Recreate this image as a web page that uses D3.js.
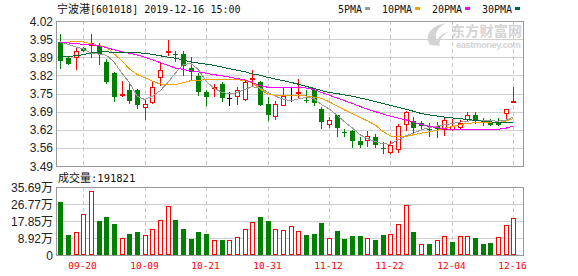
<!DOCTYPE html>
<html>
<head>
<meta charset="utf-8">
<script src="https://cdn.jsdelivr.net/npm/d3@7"></script>
<style>
  html, body { margin: 0; padding: 0; background: #fff; }
  svg { display: block; }
</style>
</head>
<body>
<div id="chart"></div>
<script>
// trading days shown (MM-DD, 2019)
const dates = ['09-17', '09-18', '09-19', '09-20', '09-23', '09-24', '09-25', '09-26', '09-27', '09-30',
  '10-08', '10-09', '10-10', '10-11', '10-14', '10-15', '10-16', '10-17', '10-18', '10-21',
  '10-22', '10-23', '10-24', '10-25', '10-28', '10-29', '10-30', '10-31', '11-01', '11-04',
  '11-05', '11-06', '11-07', '11-08', '11-11', '11-12', '11-13', '11-14', '11-15', '11-18',
  '11-19', '11-20', '11-21', '11-22', '11-25', '11-26', '11-27', '11-28', '11-29', '12-02',
  '12-03', '12-04', '12-05', '12-06', '12-09', '12-10', '12-11', '12-12', '12-13', '12-16'];

const openPx = [3.945, 3.885, 3.886, 3.921, 3.929, 3.928, 3.871, 3.831, 3.751, 3.768,
  3.769, 3.702, 3.721, 3.812, 3.902, 3.900, 3.899, 3.848, 3.820, 3.759,
  3.771, 3.790, 3.740, 3.741, 3.731, 3.805, 3.798, 3.716, 3.668, 3.710,
  3.751, 3.753, 3.732, 3.768, 3.698, 3.640, 3.676, 3.613, 3.619, 3.580,
  3.582, 3.597, 3.556, 3.537, 3.549, 3.641, 3.656, 3.646, 3.625, 3.637,
  3.622, 3.622, 3.629, 3.658, 3.676, 3.656, 3.646, 3.647, 3.680, 3.720];
const highPx = [3.972, 3.887, 3.921, 3.925, 3.972, 3.940, 3.881, 3.835, 3.802, 3.790,
  3.770, 3.731, 3.796, 3.869, 3.952, 3.911, 3.911, 3.889, 3.829, 3.767,
  3.790, 3.796, 3.759, 3.780, 3.800, 3.841, 3.800, 3.741, 3.729, 3.780,
  3.777, 3.808, 3.768, 3.771, 3.707, 3.668, 3.678, 3.625, 3.622, 3.597,
  3.619, 3.607, 3.576, 3.583, 3.643, 3.692, 3.670, 3.655, 3.646, 3.650,
  3.668, 3.662, 3.658, 3.688, 3.688, 3.664, 3.662, 3.664, 3.700, 3.780];
const lowPx = [3.850, 3.861, 3.842, 3.909, 3.883, 3.863, 3.792, 3.729, 3.741, 3.719,
  3.702, 3.658, 3.717, 3.783, 3.891, 3.875, 3.824, 3.804, 3.751, 3.713,
  3.741, 3.729, 3.713, 3.713, 3.729, 3.784, 3.713, 3.658, 3.659, 3.710,
  3.729, 3.735, 3.723, 3.713, 3.628, 3.628, 3.601, 3.598, 3.561, 3.558,
  3.558, 3.558, 3.537, 3.534, 3.536, 3.619, 3.613, 3.625, 3.601, 3.597,
  3.600, 3.618, 3.622, 3.649, 3.646, 3.640, 3.639, 3.640, 3.658, 3.720];
const closePx = [3.872, 3.863, 3.910, 3.911, 3.938, 3.899, 3.798, 3.741, 3.755, 3.729,
  3.713, 3.717, 3.780, 3.841, 3.910, 3.898, 3.857, 3.832, 3.759, 3.741,
  3.780, 3.738, 3.740, 3.768, 3.798, 3.811, 3.713, 3.677, 3.716, 3.747,
  3.751, 3.759, 3.731, 3.719, 3.649, 3.658, 3.628, 3.612, 3.580, 3.568,
  3.598, 3.568, 3.555, 3.567, 3.635, 3.687, 3.628, 3.637, 3.624, 3.626,
  3.658, 3.637, 3.646, 3.676, 3.656, 3.649, 3.639, 3.641, 3.698, 3.729];

const volume = [279700, 105000, 119100, 213600, 335900, 178500, 199400, 162700, 89200, 110200,
  120700, 105000, 136500, 182100, 255600, 183700, 136500, 84000, 120700, 110200,
  78700, 78700, 78700, 94500, 136500, 173200, 199400, 178500, 136500, 131200,
  152200, 126000, 105000, 110200, 168000, 89200, 126000, 84000, 99700, 99700,
  89200, 78700, 105000, 110200, 161100, 260900, 120700, 56000, 56000, 77000,
  99700, 68200, 99700, 99700, 89200, 57700, 63000, 94500, 157500, 191821];

// moving averages
const ma5 = [3.944, 3.935, 3.925, 3.918, 3.903, 3.899, 3.895, 3.870, 3.830, 3.795,
  3.745, 3.733, 3.745, 3.765, 3.795, 3.830, 3.860, 3.865, 3.842, 3.800,
  3.775, 3.760, 3.753, 3.758, 3.770, 3.780, 3.775, 3.760, 3.745, 3.735,
  3.728, 3.735, 3.741, 3.737, 3.715, 3.699, 3.677, 3.652, 3.630, 3.605,
  3.590, 3.580, 3.571, 3.570, 3.585, 3.600, 3.610, 3.622, 3.630, 3.636,
  3.640, 3.645, 3.650, 3.654, 3.656, 3.655, 3.655, 3.654, 3.657, 3.669];
const ma10 = [3.942, 3.943, 3.944, 3.944, 3.937, 3.930, 3.925, 3.900, 3.875, 3.845,
  3.825, 3.813, 3.800, 3.790, 3.786, 3.788, 3.794, 3.802, 3.803, 3.806,
  3.808, 3.808, 3.808, 3.806, 3.802, 3.795, 3.772, 3.753, 3.748, 3.747,
  3.747, 3.747, 3.746, 3.742, 3.738, 3.725, 3.710, 3.695, 3.682, 3.668,
  3.655, 3.640, 3.617, 3.600, 3.597, 3.598, 3.604, 3.610, 3.615, 3.620,
  3.628, 3.634, 3.640, 3.646, 3.648, 3.649, 3.649, 3.649, 3.654, 3.663];
const ma20 = [3.942, 3.940, 3.937, 3.935, 3.933, 3.930, 3.923, 3.915, 3.908, 3.902,
  3.896, 3.888, 3.878, 3.868, 3.858, 3.848, 3.843, 3.838, 3.834, 3.829,
  3.824, 3.820, 3.815, 3.810, 3.805, 3.795, 3.783, 3.778, 3.777, 3.777,
  3.778, 3.777, 3.775, 3.770, 3.759, 3.749, 3.739, 3.729, 3.719, 3.708,
  3.698, 3.689, 3.680, 3.672, 3.665, 3.659, 3.650, 3.642, 3.635, 3.630,
  3.626, 3.624, 3.623, 3.623, 3.623, 3.623, 3.623, 3.624, 3.628, 3.636];
const ma30 = [3.889, 3.890, 3.893, 3.897, 3.903, 3.907, 3.907, 3.906, 3.905, 3.905,
  3.904, 3.902, 3.898, 3.893, 3.888, 3.884, 3.877, 3.870, 3.866, 3.862,
  3.858, 3.852, 3.846, 3.840, 3.835, 3.827, 3.822, 3.814, 3.808, 3.802,
  3.796, 3.789, 3.781, 3.774, 3.766, 3.759, 3.755, 3.750, 3.745, 3.739,
  3.733, 3.726, 3.719, 3.712, 3.705, 3.698, 3.690, 3.682, 3.677, 3.673,
  3.669, 3.666, 3.663, 3.660, 3.657, 3.654, 3.651, 3.650, 3.649, 3.649];

const priceTickLabels = ['3.49', '3.56', '3.62', '3.69', '3.75', '3.82', '3.89', '3.95', '4.02'];
const volTickLabels = ['0', '8.92万', '17.85万', '26.77万', '35.69万'];
const xTickLabels = ['09-20', '10-09', '10-21', '10-31', '11-12', '11-22', '12-04', '12-16'];

const legendItems = [
  { label: '5PMA', color: '#9a9a9a', values: ma5 },
  { label: '10PMA', color: '#f0a000', values: ma10 },
  { label: '20PMA', color: '#ff00ff', values: ma20 },
  { label: '30PMA', color: '#006a32', values: ma30 },
];

const title = { name: '宁波港', code: '[601018] 2019-12-16 15:00' };
const lastVolume = volume[volume.length - 1];

const W = 578;
const H = 276;
const plotL = 56;
const plotR = 523;
const RED = '#ff0000';
const GREEN = '#008000';
const GRID = '#d0d0d0';
const BORDER = '#999';
const mono = '"DejaVu Sans Mono", "Liberation Mono", monospace';
const sans = '"Liberation Sans", "Noto Sans CJK SC", sans-serif';
const cjk = '"Noto Sans CJK SC", sans-serif';

const svg = d3.select('#chart').append('svg')
  .attr('width', W)
  .attr('height', H);

const x = d3.scaleLinear().domain([3, 59]).range([83.3, 513.3]);
const y = d3.scaleLinear().domain([3.49, 4.02]).range([166, 21]);
const vy = d3.scaleLinear().domain([0, 356900]).range([255, 187]);

const px = (v) => Math.round(v) + 0.5;
const idx = d3.range(dates.length);

// ---- title + legend
const t = svg.append('text').attr('x', 57).attr('y', 13).attr('fill', '#111');
t.append('tspan').style('font-family', cjk).style('font-size', '11px').text(title.name);
t.append('tspan').style('font-family', mono).style('font-size', '10px').text(title.code);

let lx = 338;
legendItems.forEach((item) => {
  const txt = svg.append('text')
    .attr('x', lx).attr('y', 12.5)
    .style('font-family', mono).style('font-size', '10px')
    .attr('fill', '#111')
    .text(item.label);
  const w = txt.node().getComputedTextLength();
  svg.append('rect')
    .attr('x', Math.round(lx + w + 3)).attr('y', 7)
    .attr('width', 5).attr('height', 3)
    .attr('fill', item.color);
  lx = Math.round(lx + w + 3) + 5 + 12;
});

// ---- watermark
const wm = svg.append('g').attr('fill', '#d4d4d4');
wm.append('path')
  .attr('d', 'M430,45 C424,36 430,26 446,23 C437,28 434,34 437,41 C439,36 443,33 448,32 C442,36 438,41 440,46 Z');
wm.append('text').attr('x', 451).attr('y', 35.5)
  .style('font-family', cjk).style('font-size', '14px').style('font-weight', 'bold')
  .attr('textLength', 71).text('东方财富网');
wm.append('text').attr('x', 456).attr('y', 47.5)
  .style('font-family', sans).style('font-size', '9.5px').style('font-weight', 'bold')
  .attr('textLength', 65).text('eastmoney.com');

// ---- grids
const priceVals = priceTickLabels.map((d, i) => 3.49 + i * (4.02 - 3.49) / (priceTickLabels.length - 1));
const volVals = volTickLabels.map((d, i) => i * 356900 / (volTickLabels.length - 1));

svg.append('g').selectAll('line').data(priceVals.slice(1, -1)).join('line')
  .attr('x1', plotL).attr('x2', plotR)
  .attr('y1', (d) => px(y(d))).attr('y2', (d) => px(y(d)))
  .attr('stroke', GRID);
svg.append('g').selectAll('line').data(volVals.slice(1, -1)).join('line')
  .attr('x1', plotL).attr('x2', plotR)
  .attr('y1', (d) => px(vy(d))).attr('y2', (d) => px(vy(d)))
  .attr('stroke', GRID);

const tickIdx = xTickLabels.map((d) => dates.indexOf(d));
[[21, 166], [187, 255]].forEach(([a, b]) => {
  svg.append('g').selectAll('line').data(tickIdx).join('line')
    .attr('x1', (d) => px(x(d))).attr('x2', (d) => px(x(d)))
    .attr('y1', a).attr('y2', b)
    .attr('stroke', '#c8c8c8')
    .attr('stroke-dasharray', '4,3');
});

// ---- axis labels
svg.append('g').selectAll('text').data(priceVals).join('text')
  .attr('x', 53).attr('y', (d) => y(d) + 4.5)
  .attr('text-anchor', 'end')
  .style('font-family', sans).style('font-size', '12px')
  .attr('fill', '#222')
  .text((d, i) => priceTickLabels[i]);
svg.append('g').selectAll('text').data(volVals).join('text')
  .attr('x', 53).attr('y', (d) => vy(d) + 4.5)
  .attr('text-anchor', 'end')
  .style('font-family', sans).style('font-size', '12px')
  .attr('fill', '#222')
  .text((d, i) => volTickLabels[i]);
svg.append('g').selectAll('text').data(tickIdx).join('text')
  .attr('x', (d) => px(x(d)) - 1).attr('y', 269)
  .attr('text-anchor', 'middle')
  .style('font-family', mono).style('font-size', '9.5px')
  .attr('fill', RED)
  .text((d, i) => xTickLabels[i]);

const vt = svg.append('text').attr('x', 58).attr('y', 182).attr('fill', '#111');
vt.append('tspan').style('font-family', cjk).style('font-size', '11px').text('成交量');
vt.append('tspan').style('font-family', mono).style('font-size', '10.5px').text(`:${lastVolume}`);

// ---- candles
const candles = svg.append('g');
idx.forEach((i) => {
  const o = openPx[i];
  const c = closePx[i];
  const cx = Math.round(x(i));
  const top = Math.round(y(Math.max(o, c)));
  const bot = Math.round(y(Math.min(o, c)));
  const hi = Math.round(y(highPx[i]));
  const lo = Math.round(y(lowPx[i]));
  if (c > o) {
    if (hi < top) candles.append('line').attr('x1', cx + 0.5).attr('x2', cx + 0.5).attr('y1', hi).attr('y2', top).attr('stroke', RED);
    if (lo > bot) candles.append('line').attr('x1', cx + 0.5).attr('x2', cx + 0.5).attr('y1', bot).attr('y2', lo).attr('stroke', RED);
    candles.append('rect')
      .attr('x', cx - 1.5).attr('y', top + 0.5)
      .attr('width', 4).attr('height', Math.max(1, bot - top - 1))
      .attr('fill', '#fff').attr('stroke', RED);
  } else {
    const col = c < o ? GREEN : '#000';
    candles.append('line').attr('x1', cx + 0.5).attr('x2', cx + 0.5).attr('y1', hi).attr('y2', lo + 1).attr('stroke', col);
    candles.append('rect')
      .attr('x', cx - 2).attr('y', top)
      .attr('width', 5).attr('height', Math.max(1, bot - top))
      .attr('fill', col);
  }
});

// ---- moving averages
legendItems.forEach((item) => {
  svg.append('path')
    .datum(item.values)
    .attr('d', d3.line().x((d, i) => x(i)).y((d) => y(d)))
    .attr('fill', 'none')
    .attr('stroke', item.color)
    .attr('stroke-width', 1)
    .attr('shape-rendering', 'crispEdges');
});

// ---- volume bars (colour by close vs previous close)
const vols = svg.append('g');
idx.forEach((i) => {
  const up = i === 0 ? closePx[i] >= openPx[i] : closePx[i] >= closePx[i - 1];
  const cx = Math.round(x(i));
  const top = Math.round(vy(volume[i]));
  if (up) {
    vols.append('rect')
      .attr('x', cx - 1.5).attr('y', top + 0.5)
      .attr('width', 4).attr('height', 255 - top - 1)
      .attr('fill', '#fff').attr('stroke', RED);
  } else {
    vols.append('rect')
      .attr('x', cx - 2).attr('y', top)
      .attr('width', 5).attr('height', 255 - top)
      .attr('fill', GREEN);
  }
});

// ---- frames
[[21, 166], [187, 255]].forEach(([a, b]) => {
  svg.append('rect')
    .attr('x', plotL + 0.5).attr('y', a + 0.5)
    .attr('width', plotR - plotL).attr('height', b - a)
    .attr('fill', 'none')
    .attr('stroke', BORDER);
});
</script>
</body>
</html>
